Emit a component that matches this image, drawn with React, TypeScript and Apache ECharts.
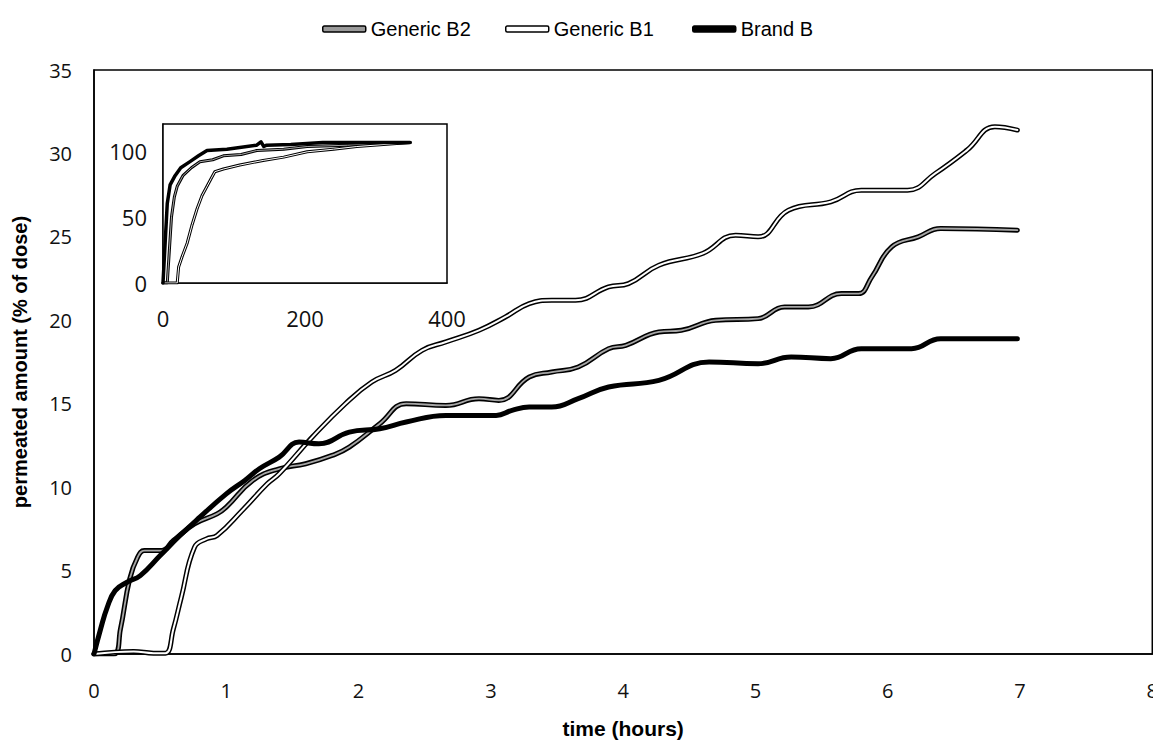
import React, { useEffect, useRef } from "react";
import * as echarts from "echarts";

// ---------- main chart data (time in hours, % of dose) ----------
const brandTime = [0, 0.05, 0.1, 0.16, 0.25, 0.35, 0.5, 0.65, 0.8, 1.0, 1.14, 1.25, 1.4, 1.55, 1.7, 1.93, 2.16, 2.36, 2.66, 3.04, 3.16, 3.29, 3.46, 3.66, 3.89, 4.27, 4.65, 5.02, 5.27, 5.57, 5.8, 6.18, 6.4, 6.98];
const brandValue = [0, 1.5, 2.8, 3.8, 4.3, 4.7, 5.9, 7.1, 8.2, 9.6, 10.4, 11.1, 11.8, 12.7, 12.6, 13.3, 13.5, 13.9, 14.3, 14.3, 14.6, 14.8, 14.8, 15.3, 16.0, 16.4, 17.5, 17.4, 17.8, 17.7, 18.3, 18.3, 18.9, 18.9];

const b2Time = [0, 0.15, 0.2, 0.27, 0.33, 0.38, 0.51, 0.6, 0.76, 0.93, 1.0, 1.2, 1.4, 1.6, 1.8, 1.93, 2.16, 2.36, 2.66, 2.91, 3.06, 3.29, 3.46, 3.66, 3.89, 4.02, 4.27, 4.44, 4.7, 5.02, 5.22, 5.4, 5.65, 5.78, 5.88, 6.03, 6.23, 6.4, 6.98];
const b2Value = [0, 0, 1.5, 4.5, 5.8, 6.2, 6.2, 6.8, 7.8, 8.4, 8.8, 10.4, 11.1, 11.4, 11.9, 12.4, 13.8, 15.0, 14.9, 15.3, 15.2, 16.6, 16.9, 17.2, 18.3, 18.5, 19.3, 19.4, 20.0, 20.1, 20.8, 20.8, 21.6, 21.6, 22.6, 24.4, 25.0, 25.5, 25.4];

const b1Time = [0, 0.3, 0.45, 0.54, 0.6, 0.66, 0.76, 0.85, 0.93, 1.12, 1.31, 1.4, 1.65, 1.9, 2.1, 2.28, 2.48, 2.66, 2.91, 3.11, 3.29, 3.46, 3.64, 3.89, 4.04, 4.27, 4.6, 4.85, 5.02, 5.25, 5.57, 5.8, 6.15, 6.36, 6.6, 6.81, 6.98];
const b1Value = [0, 0.15, 0.05, 0.05, 1.5, 3.4, 6.4, 6.9, 7.1, 8.6, 10.2, 10.8, 13.0, 15.0, 16.3, 17.0, 18.2, 18.7, 19.4, 20.2, 21.0, 21.2, 21.2, 22.0, 22.2, 23.3, 24.0, 25.1, 25.0, 26.6, 27.1, 27.8, 27.8, 28.8, 30.2, 31.6, 31.4];

// ---------- inset data ----------
const insetBrandX = [0, 3, 6, 10, 17, 25, 38, 50, 62, 90, 132, 138, 142, 146, 180, 225, 300, 348];
const insetBrandY = [0, 30, 60, 74, 81, 87, 91.6, 96, 100, 101, 104, 106.5, 103, 104, 104.5, 106, 106, 106];

const insetB2X = [0, 6, 9, 12, 16, 20, 28, 40, 52, 70, 85, 110, 132, 170, 203, 260, 348];
const insetB2Y = [0, 0, 25, 50, 65, 73, 81, 87, 91.5, 93, 96, 97, 100, 101, 103, 104, 106];

const insetB1X = [0, 20, 22, 27, 34, 41, 48, 55, 62, 68, 73, 85, 108, 141, 170, 203, 240, 273, 348];
const insetB1Y = [0, 0, 12, 20, 30, 44, 56, 66, 73, 79, 84, 86, 89, 92.5, 95, 99, 101, 103, 106];

const seriesNames = ["Generic B2", "Generic B1", "Brand B"];

const pairs = (xs: number[], ys: number[]) => xs.map((x, i) => [x, ys[i]]);

const tickFont = { fontFamily: "Open Sans", fontSize: 20, color: "#111" };
const insetTickFont = { fontFamily: "Open Sans", fontSize: 22, color: "#111" };

export default function App() {
  const ref = useRef<HTMLDivElement>(null);

  useEffect(() => {
    if (!ref.current) return;
    const chart = echarts.init(ref.current, undefined, { renderer: "svg" });

    const line = (
      name: string,
      data: number[][],
      color: string,
      width: number,
      axis: number,
      smooth: number | boolean,
      z: number
    ) => ({
      type: "line",
      name,
      data,
      xAxisIndex: axis,
      yAxisIndex: axis,
      showSymbol: false,
      symbol: "none",
      smooth,
      z,
      lineStyle: { color, width, cap: "round", join: "round" },
      itemStyle: { color },
      emphasis: { disabled: true },
    });

    const legendBase = {
      top: 14,
      itemWidth: 43,
      itemHeight: 6,
      selectedMode: false,
      textStyle: { fontFamily: "Liberation Sans", fontSize: 20, color: "#000" },
    };

    chart.setOption({
      animation: false,
      backgroundColor: "#fff",
      legend: [
        {
          ...legendBase,
          left: 317,
          data: [{ name: seriesNames[0], icon: "roundRect", itemStyle: { color: "#9a9a9a", borderColor: "#000", borderWidth: 1.5 } }],
        },
        {
          ...legendBase,
          left: 500,
          data: [{ name: seriesNames[1], icon: "roundRect", itemStyle: { color: "#fff", borderColor: "#000", borderWidth: 1.5 } }],
        },
        {
          ...legendBase,
          left: 687,
          data: [{ name: seriesNames[2], icon: "roundRect", itemStyle: { color: "#000", borderColor: "#000", borderWidth: 1.5 } }],
        },
      ],
      grid: [
        { left: 94, top: 70, right: 6, bottom: 95, show: true, borderColor: "#000", borderWidth: 1.5, backgroundColor: "#fff" },
        { left: 163, top: 124, width: 284, height: 159, show: true, borderColor: "#000", borderWidth: 1.5, backgroundColor: "#fff", z: 3 },
      ],
      xAxis: [
        {
          type: "value",
          gridIndex: 0,
          min: 0,
          max: 8,
          interval: 1,
          name: "time (hours)",
          nameLocation: "middle",
          nameGap: 64,
          nameTextStyle: { fontFamily: "Liberation Sans", fontWeight: "bold", fontSize: 21, color: "#000" },
          axisLine: { show: true, lineStyle: { color: "#000", width: 1.5 } },
          axisTick: { show: false },
          splitLine: { show: false },
          axisLabel: { ...tickFont, margin: 26 },
        },
        {
          type: "value",
          gridIndex: 1,
          min: 0,
          max: 400,
          interval: 200,
          axisLine: { show: true, onZero: false, lineStyle: { color: "#000", width: 1.5 } },
          axisTick: { show: false },
          splitLine: { show: false },
          axisLabel: { ...insetTickFont, margin: 24 },
        },
      ],
      yAxis: [
        {
          type: "value",
          gridIndex: 0,
          min: 0,
          max: 35,
          interval: 5,
          name: "permeated amount (% of dose)",
          nameLocation: "middle",
          nameGap: 64,
          nameTextStyle: { fontFamily: "Liberation Sans", fontWeight: "bold", fontSize: 20, color: "#000" },
          axisLine: { show: true, lineStyle: { color: "#000", width: 1.5 } },
          axisTick: { show: false },
          splitLine: { show: false },
          axisLabel: { ...tickFont, margin: 22 },
        },
        {
          type: "value",
          gridIndex: 1,
          min: 0,
          max: 120,
          interval: 50,
          axisLine: { show: true, onZero: false, lineStyle: { color: "#000", width: 1.5 } },
          axisTick: { show: false },
          splitLine: { show: false },
          axisLabel: { ...insetTickFont, margin: 16, showMaxLabel: false },
        },
      ],
      series: [
        line(seriesNames[0], pairs(b2Time, b2Value), "#000", 5, 0, 0.45, 2),
        line(seriesNames[0] + " core", pairs(b2Time, b2Value), "#a6a6a6", 1.8, 0, 0.45, 2),
        line(seriesNames[1], pairs(b1Time, b1Value), "#000", 5, 0, 0.45, 2),
        line(seriesNames[1] + " core", pairs(b1Time, b1Value), "#fff", 2, 0, 0.45, 2),
        line(seriesNames[2], pairs(brandTime, brandValue), "#000", 5, 0, 0.45, 2),
        line("inset " + seriesNames[0], pairs(insetB2X, insetB2Y), "#000", 3, 1, false, 4),
        line("inset " + seriesNames[0] + " core", pairs(insetB2X, insetB2Y), "#a6a6a6", 1, 1, false, 4),
        line("inset " + seriesNames[1], pairs(insetB1X, insetB1Y), "#000", 3, 1, false, 4),
        line("inset " + seriesNames[1] + " core", pairs(insetB1X, insetB1Y), "#fff", 1, 1, false, 4),
        line("inset " + seriesNames[2], pairs(insetBrandX, insetBrandY), "#000", 3.5, 1, false, 4),
      ],
    });

    return () => chart.dispose();
  }, []);

  return <div ref={ref} style={{ width: 1161, height: 749, margin: -8 }} />;
}
